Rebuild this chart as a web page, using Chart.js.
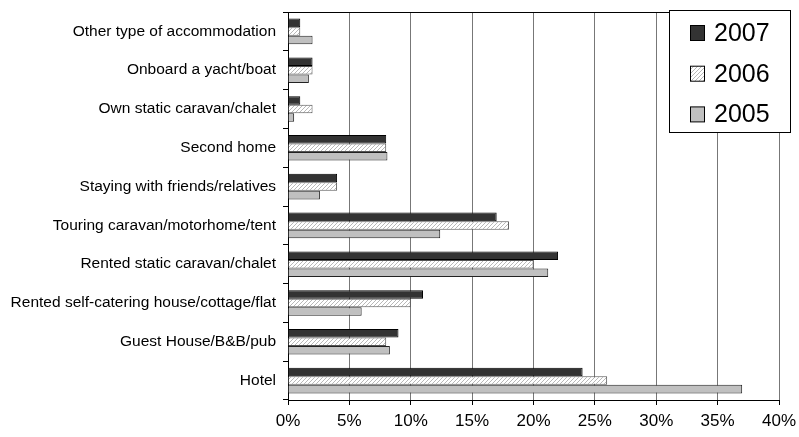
<!DOCTYPE html>
<html>
<head>
<meta charset="utf-8">
<script src="https://cdn.jsdelivr.net/npm/chart.js@4"></script>
<style>
  html, body { margin: 0; padding: 0; background: #fff; }
  #wrap { width: 799px; height: 437px; position: relative; }
</style>
</head>
<body>
<div id="wrap"><canvas id="accom_chart"></canvas></div>
<script>
var categories = [
    'Other type of accommodation',
    'Onboard a yacht/boat',
    'Own static caravan/chalet',
    'Second home',
    'Staying with friends/relatives',
    'Touring caravan/motorhome/tent',
    'Rented static caravan/chalet',
    'Rented self-catering house/cottage/flat',
    'Guest House/B&B/pub',
    'Hotel'
];
var years = ['2007', '2006', '2005'];
var values2007 = [1, 2, 1, 8, 4, 17, 22, 11, 9, 24];
var values2006 = [1, 2, 2, 8, 4, 18, 20, 10, 8, 26];
var values2005 = [2, 1.7, 0.5, 8.1, 2.6, 12.4, 21.2, 6, 8.3, 37];
var xTicks = [0, 5, 10, 15, 20, 25, 30, 35, 40];

// hatch pattern for 2006
function makeHatch() {
    var c = document.createElement('canvas');
    c.width = 4; c.height = 4;
    var g = c.getContext('2d');
    g.fillStyle = '#fff';
    g.fillRect(0, 0, 4, 4);
    g.strokeStyle = '#b8b8b8';
    g.lineWidth = 1;
    g.beginPath();
    g.moveTo(-1, 5); g.lineTo(5, -1);
    g.moveTo(-1, 1); g.lineTo(1, -1);
    g.moveTo(3, 5); g.lineTo(5, 3);
    g.stroke();
    return g.createPattern(c, 'repeat');
}

// legend box drawn over the plot, top right
var boxLegend = {
    id: 'boxLegend',
    afterDraw: function(chart) {
        var ctx = chart.ctx;
        var x = 669.5, y = 10.5, w = 121, h = 122;
        ctx.save();
        ctx.fillStyle = '#fff';
        ctx.fillRect(x, y, w, h);
        ctx.strokeStyle = '#000';
        ctx.lineWidth = 1;
        ctx.strokeRect(x, y, w, h);
        ctx.font = '25px "Liberation Sans", Arial, sans-serif';
        ctx.textBaseline = 'middle';
        chart.data.datasets.forEach(function(ds, i) {
            var cy = 33 + i * 40.7;
            ctx.fillStyle = ds.backgroundColor;
            ctx.fillRect(690.5, cy - 7.5, 14, 15);
            ctx.strokeStyle = '#000';
            ctx.strokeRect(690.5, cy - 7.5, 14, 15);
            ctx.fillStyle = '#000';
            ctx.fillText(ds.label, 714, cy + 1);
        });
        ctx.restore();
    }
};

// top edge of the plot area
var plotTop = {
    id: 'plotTop',
    beforeDatasetsDraw: function(chart) {
        var a = chart.chartArea, ctx = chart.ctx;
        ctx.save();
        ctx.strokeStyle = '#000';
        ctx.lineWidth = 1;
        ctx.beginPath();
        ctx.moveTo(a.left, Math.round(a.top) + 0.5);
        ctx.lineTo(a.right, Math.round(a.top) + 0.5);
        ctx.stroke();
        ctx.restore();
    }
};

var ctx = document.getElementById('accom_chart').getContext('2d');
var hatch = makeHatch();
var accomChart = new Chart(ctx, {
    type: 'bar',
    data: {
        labels: categories,
        datasets: [
            {
                label: years[0],
                data: values2007,
                backgroundColor: '#333333',
                borderColor: '#000',
                borderWidth: 1
            },
            {
                label: years[1],
                data: values2006,
                backgroundColor: hatch,
                borderColor: '#555',
                borderWidth: 1
            },
            {
                label: years[2],
                data: values2005,
                backgroundColor: '#c0c0c0',
                borderColor: '#222',
                borderWidth: 1
            }
        ]
    },
    options: {
        indexAxis: 'y',
        responsive: true,
        maintainAspectRatio: false,
        animation: false,
        categoryPercentage: 0.66,
        barPercentage: 1,
        layout: {
            padding: { left: 0, right: 20, top: 12, bottom: 0 }
        },
        plugins: {
            legend: { display: false },
            tooltip: { enabled: false }
        },
        scales: {
            x: {
                min: 0,
                max: 40,
                afterBuildTicks: function(scale) {
                    scale.ticks = xTicks.map(function(v) { return { value: v }; });
                },
                afterFit: function(scale) {
                    scale.height = 37;
                    scale.paddingLeft = 0;
                    scale.paddingRight = 0;
                },
                ticks: {
                    callback: function(v) { return v + '%'; },
                    color: '#000',
                    font: { family: '"Liberation Sans", Arial, sans-serif', size: 17 },
                    padding: 6,
                    maxRotation: 0
                },
                grid: {
                    color: '#777',
                    tickColor: '#000',
                    tickLength: 5,
                    lineWidth: 1
                },
                border: { color: '#000', width: 1 }
            },
            y: {
                afterFit: function(scale) {
                    scale.width = 288;
                    scale.paddingTop = 0;
                    scale.paddingBottom = 0;
                },
                ticks: {
                    color: '#000',
                    font: { family: '"Liberation Sans", Arial, sans-serif', size: 15.5 },
                    padding: 7
                },
                grid: {
                    drawOnChartArea: false,
                    tickColor: '#000',
                    tickLength: 5
                },
                border: { color: '#000', width: 1 }
            }
        }
    },
    plugins: [plotTop, boxLegend]
});
</script>
</body>
</html>
